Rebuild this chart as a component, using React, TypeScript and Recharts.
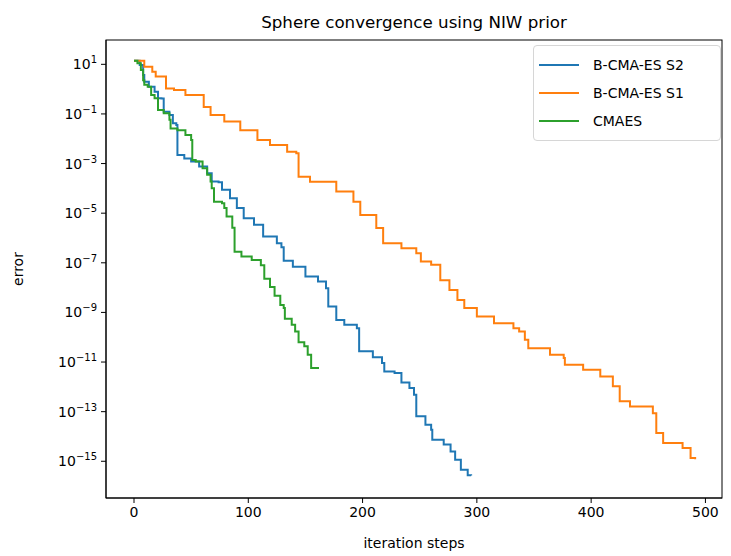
import React from 'react';
import { LineChart, Line, XAxis, YAxis, Customized } from 'recharts';

// B-CMA-ES S2 (blue)
const s2Iter = [0, 5, 8, 9, 13, 18, 21, 24, 26, 31, 34, 37, 38, 44, 50, 57, 64, 68, 74, 77, 84, 90, 96, 105, 113, 125, 129, 131, 139, 150, 161, 168, 170, 177, 184, 195, 197, 209, 217, 219, 228, 234, 241, 245, 247, 255, 260, 261, 271, 277, 281, 286, 292, 295];
const s2Err = [14, 9.3, 3.7, 2.0, 1.25, 0.79, 0.43, 0.42, 0.123, 0.091, 0.042, 0.036, 0.0022, 0.0016, 0.0012, 7.6e-4, 4.1e-4, 1.9e-4, 1.75e-4, 8.7e-5, 4.0e-5, 1.6e-5, 6.3e-6, 3.4e-6, 1.15e-6, 6.2e-7, 4.2e-7, 1.2e-7, 6.9e-8, 2.8e-8, 1.75e-8, 9.5e-9, 1.74e-9, 5e-10, 3.2e-10, 2.3e-10, 2.7e-11, 1.55e-11, 9.1e-12, 4.2e-12, 3.6e-12, 1.5e-12, 8.9e-13, 4.8e-13, 6.5e-14, 3.0e-14, 1.85e-14, 7.4e-15, 4.7e-15, 2.5e-15, 1.15e-15, 4.6e-16, 2.75e-16, 2.7e-16];

// B-CMA-ES S1 (orange)
const s1Iter = [0, 9, 16, 19, 28, 35, 45, 61, 67, 79, 93, 108, 119, 134, 142, 144, 154, 177, 192, 198, 212, 218, 234, 247, 251, 260, 268, 276, 283, 289, 300, 315, 332, 337, 342, 345, 364, 376, 377, 393, 408, 419, 425, 434, 454, 457, 463, 480, 487, 491];
const s1Err = [14, 8, 5, 3.2, 1.07, 0.92, 0.58, 0.19, 0.091, 0.049, 0.022, 0.0089, 0.0056, 0.003, 0.0026, 2.95e-4, 1.86e-4, 7.4e-5, 2.9e-5, 8.5e-6, 2.5e-6, 6.2e-7, 3.9e-7, 2.45e-7, 1.12e-7, 8.3e-8, 2.0e-8, 8.1e-9, 3.2e-9, 1.5e-9, 6.8e-10, 3.7e-10, 2.3e-10, 1.7e-10, 7.9e-11, 3.6e-11, 1.95e-11, 1.45e-11, 7.8e-12, 4.9e-12, 2.6e-12, 1.05e-12, 2.6e-13, 1.6e-13, 8.7e-14, 1.38e-14, 5.5e-15, 3.4e-15, 1.35e-15, 1.2e-15];

// CMAES (green)
const cmaIter = [0, 3, 6, 8, 9, 12, 15, 18, 21, 26, 31, 32, 38, 45, 50, 51, 54, 60, 64, 67, 68, 70, 77, 79, 81, 86, 88, 94, 103, 111, 114, 119, 123, 128, 131, 132, 138, 141, 144, 149, 152, 155, 161];
const cmaErr = [14, 11, 5.9, 2.3, 1.5, 1.26, 0.58, 0.43, 0.144, 0.107, 0.058, 0.026, 0.022, 0.014, 0.0089, 0.0014, 0.0012, 6.5e-4, 3.5e-4, 1.9e-4, 1.02e-4, 2.9e-5, 2.5e-5, 1.6e-5, 7.3e-6, 2.6e-6, 2.8e-7, 1.78e-7, 1.3e-7, 8e-8, 2.25e-8, 1.07e-8, 4.7e-9, 2.0e-9, 1.5e-9, 5.5e-10, 3.2e-10, 1.7e-10, 6.3e-11, 4.3e-11, 1.95e-11, 5.7e-12, 5.2e-12];

const xTicks = [0, 100, 200, 300, 400, 500];
const yTickExps = [1, -1, -3, -5, -7, -9, -11, -13, -15];

const seriesNames = ['B-CMA-ES S2', 'B-CMA-ES S1', 'CMAES'];
const seriesColors = ['#1f77b4', '#ff7f0e', '#2ca02c'];

const titleText = 'Sphere convergence using NIW prior';
const xLabelText = 'iteration steps';
const yLabelText = 'error';

const FONT = '"DejaVu Sans", sans-serif';

const build = (xs: number[], ys: number[]) => xs.map((x, i) => ({ x, y: ys[i] }));
const seriesData = [build(s2Iter, s2Err), build(s1Iter, s1Err), build(cmaIter, cmaErr)];

const yTicks = yTickExps.map((e) => Math.pow(10, e));

const YTick = (props: any) => {
  const { x, y, payload } = props;
  const exp = Math.round(Math.log10(payload.value));
  const expStr = exp < 0 ? '\u2212' + String(-exp) : String(exp);
  return (
    <text x={x} y={y + 5} textAnchor="end" fontSize={14} fill="#000" fontFamily={FONT}>
      <tspan>10</tspan>
      <tspan dy={-6} fontSize={10}>{expStr}</tspan>
    </text>
  );
};

const XTick = (props: any) => {
  const { x, y, payload } = props;
  return (
    <text x={x} y={y + 10} textAnchor="middle" fontSize={14} fill="#000" fontFamily={FONT}>
      {payload.value}
    </text>
  );
};

const Texts = () => (
  <g>
    <rect x={106} y={40} width={616} height={458} fill="none" stroke="#000" strokeWidth={1} />
    <text x={414} y={28} textAnchor="middle" fontSize={16.7} fill="#000" fontFamily={FONT}>{titleText}</text>
    <text x={414} y={548} textAnchor="middle" fontSize={14} fill="#000" fontFamily={FONT}>{xLabelText}</text>
    <text x={23} y={269} textAnchor="middle" fontSize={14} fill="#000" fontFamily={FONT} transform="rotate(-90 23 269)">{yLabelText}</text>
  </g>
);

export default function App() {
  return (
    <div style={{ position: 'absolute', left: 0, top: 0, width: 731, height: 556, background: '#fff' }}>
      <LineChart width={731} height={556} margin={{ top: 40, right: 9, bottom: 0, left: 0 }}>
        <XAxis
          type="number"
          dataKey="x"
          domain={[-24.5, 514.5]}
          ticks={xTicks}
          allowDataOverflow
          height={58}
          tickSize={5}
          tickMargin={4}
          tick={<XTick />}
          axisLine={{ stroke: '#000', strokeWidth: 1 }}
          tickLine={{ stroke: '#000', strokeWidth: 1 }}
        />
        <YAxis
          type="number"
          dataKey="y"
          scale="log"
          domain={[Math.pow(10, -16.48), Math.pow(10, 1.98)]}
          allowDataOverflow
          ticks={yTicks}
          width={106}
          tickSize={5}
          tickMargin={4}
          tick={<YTick />}
          axisLine={{ stroke: '#000', strokeWidth: 1 }}
          tickLine={{ stroke: '#000', strokeWidth: 1 }}
        />
        {seriesData.map((d, i) => (
          <Line
            key={seriesNames[i]}
            data={d}
            dataKey="y"
            name={seriesNames[i]}
            type="stepAfter"
            stroke={seriesColors[i]}
            strokeWidth={2}
            dot={false}
            isAnimationActive={false}
          />
        ))}
        <Customized component={Texts} />
      </LineChart>
      <div
        style={{
          position: 'absolute',
          left: 533,
          top: 45,
          width: 186,
          height: 94,
          border: '1px solid #d6d6d6',
          borderRadius: 4,
          background: 'rgba(255,255,255,0.8)',
          fontFamily: FONT,
          fontSize: 14,
          color: '#000',
        }}
      >
        {seriesNames.map((n, i) => (
          <div key={n} style={{ position: 'absolute', left: 0, top: 9 + i * 28, height: 20, width: 186 }}>
            <svg width={50} height={20} style={{ position: 'absolute', left: 0, top: 0 }}>
              <line x1={5} y1={10} x2={45} y2={10} stroke={seriesColors[i]} strokeWidth={2} />
            </svg>
            <span style={{ position: 'absolute', left: 59, top: 0, lineHeight: '20px', whiteSpace: 'nowrap' }}>{n}</span>
          </div>
        ))}
      </div>
    </div>
  );
}
